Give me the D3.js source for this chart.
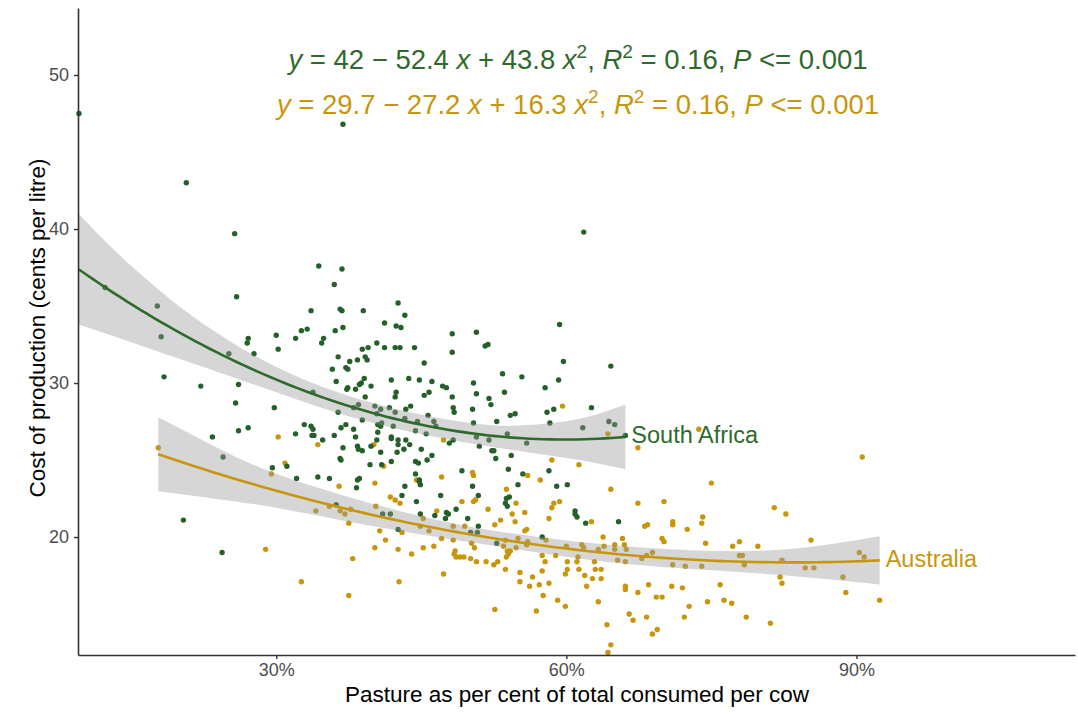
<!DOCTYPE html>
<html>
<head>
<meta charset="utf-8">
<script src="https://cdn.jsdelivr.net/npm/d3@7"></script>
<style>
  html, body { margin: 0; padding: 0; background: #ffffff; }
  svg { display: block; font-family: "Liberation Sans", Arial, sans-serif; }
</style>
</head>
<body>
<svg id="chart" width="1078" height="720"></svg>
<script>
// Pasture share (% of total feed) vs cost of production (cents per litre)
const saPoints = [
  [9.6,47.5],[20.7,43.0],[25.7,39.7],[12.3,36.2],[36.9,46.8],[34.4,37.6],[36.8,37.4],[36.0,36.4],[61.8,39.8],
  [25.9,35.6],[17.7,35.0],[18.1,33.0],[27.1,32.9],[27.0,32.6],[30.0,33.1],[30.2,32.2],[25.1,31.9],[27.7,31.9],
  [18.4,30.4],[22.2,29.8],[26.1,29.9],[25.8,28.7],[29.8,28.4],[23.4,26.5],[26.1,26.9],[27.1,27.1],[24.5,25.2],[29.6,24.5],
  [33.6,34.7],[36.6,34.8],[36.8,34.7],[39.0,34.7],[42.6,35.2],[43.3,34.4],[41.2,33.9],[42.4,33.7],[42.9,33.6],
  [32.6,33.4],[33.2,33.5],[32.0,32.9],[34.9,32.9],[34.7,32.6],[36.1,33.4],[36.9,33.6],[48.2,33.2],[50.7,33.3],
  [48.2,32.0],[40.4,32.6],[39.5,32.3],[38.9,32.2],[41.2,32.3],[42.3,32.3],[42.8,32.3],[44.3,32.3],[36.4,31.7],
  [37.6,31.4],[38.4,31.5],[39.2,31.7],[39.4,31.5],[45.3,31.3],[35.8,30.9],[37.2,31.0],[37.4,30.9],[36.2,30.1],
  [39.1,30.3],[38.8,30.0],[38.6,29.9],[38.2,29.6],[37.3,29.6],[37.4,29.7],[39.8,29.8],[41.9,30.2],[43.7,30.3],
  [44.8,30.2],[46.1,30.1],[47.2,29.8],[47.6,29.7],[50.4,30.0],[50.7,29.3],[45.8,29.4],[45.3,29.2],[42.4,29.4],
  [42.3,29.1],[39.2,29.1],[33.8,29.4],[36.4,28.1],[38.0,28.4],[38.5,28.6],[40.2,28.5],[40.8,28.3],[41.7,28.4],
  [43.4,28.3],[43.9,28.5],[42.3,28.1],[38.9,27.6],[40.4,28.0],[40.9,27.4],[40.8,27.2],[40.5,27.3],[42.1,27.2],
  [43.3,27.7],[44.6,27.5],[45.7,27.9],[46.3,27.5],[46.5,27.2],[44.4,26.9],[45.5,26.7],[48.2,29.1],[48.3,28.4],
  [48.4,28.1],[50.3,28.3],[50.4,27.4],[50.7,26.5],[32.9,27.3],[33.6,27.2],[33.8,27.0],[33.9,26.6],[33.7,26.6],
  [32.0,26.7],[34.8,26.3],[36.0,26.6],[36.7,27.1],[37.2,27.3],[38.0,27.0],[38.2,26.5],[40.5,26.8],[40.4,26.3],
  [41.9,26.5],[41.9,26.4],[42.6,26.3],[42.6,26.0],[43.4,26.3],[43.8,26.0],[43.2,25.7],[42.5,25.5],[45.0,25.7],
  [46.1,25.3],[45.6,25.0],[44.4,24.9],[44.7,24.8],[47.9,26.1],[48.3,26.3],[36.9,25.8],[38.4,25.9],[38.5,25.7],
  [38.9,25.6],[39.8,25.9],[40.8,25.5],[36.6,25.1],[36.7,25.0],[39.7,24.7],[40.9,24.7],[41.9,24.9],[31.1,24.6],
  [59.3,33.8],[51.6,32.4],[51.9,32.5],[59.7,31.4],[64.6,31.1],[53.4,30.6],[55.4,30.4],[59.2,30.2],[57.8,29.7],
  [53.6,29.4],[52.0,29.0],[52.2,28.6],[62.6,28.4],[58.7,28.3],[58.0,28.1],[54.2,27.9],[54.7,28.0],[52.8,27.5],
  [58.3,27.4],[64.4,27.5],[65.0,27.3],[61.7,27.1],[53.9,26.7],[52.0,26.3],[55.9,26.1],[51.0,25.9],[52.3,25.6],
  [52.5,25.6],[54.3,25.3],[52.7,25.1],[66.1,26.6],
  [20.4,21.1],[24.4,19.0],
  [32.1,23.8],[34.3,23.9],[35.5,23.8],[38.4,23.7],[38.6,23.8],[38.3,23.2],[44.4,24.1],[44.8,23.7],[44.8,23.6],
  [44.9,23.4],[43.3,23.3],[43.0,22.7],[44.5,22.3],[47.0,22.7],[49.2,24.3],[50.3,23.3],[50.9,22.7],[48.6,21.8],
  [47.6,21.6],[47.8,21.5],[47.5,21.2],[46.4,21.4],[44.9,21.5],[49.8,21.2],[50.9,20.7],[50.1,20.3],[50.8,20.3],
  [36.2,22.1],[41.0,21.5],[41.8,21.5],[42.6,20.5],
  [54.0,24.4],[55.5,24.1],[58.2,24.3],[55.0,23.4],[59.0,23.3],[60.1,23.4],[54.1,22.6],[53.8,22.5],[53.7,22.2],
  [53.9,22.0],[60.9,21.7],[60.9,21.5],[61.1,21.3],[62.0,20.9],[65.4,21.0],[57.5,20.0],[52.8,19.6]
];

const auPoints = [
  [30.2,26.5],[17.8,25.8],[47.3,26.3],[34.3,26.0],[40.1,26.0],[41.1,24.6],[30.9,24.8],
  [59.6,28.5],[64.3,26.7],[67.4,25.8],[58.5,25.0],[61.3,24.7],[73.7,27.0],[90.6,25.2],
  [29.5,24.1],[28.9,19.2],
  [36.5,23.3],[40.2,23.5],[44.5,23.7],[47.1,23.9],[41.8,22.6],[42.3,22.4],[42.8,22.2],[50.3,24.2],[50.4,24.0],
  [49.2,22.3],[50.4,22.3],[50.6,22.4],[46.6,21.7],[45.2,21.2],[40.3,22.0],[34.1,21.7],[35.5,22.0],[36.6,21.7],
  [37.1,21.5],[37.7,21.8],[37.5,20.9],[43.0,20.3],[44.9,20.7],[45.8,20.4],[47.1,19.9],[48.3,20.7],[49.5,20.7],
  [40.7,20.4],[41.3,19.8],[40.2,19.3],[42.6,19.2],[44.0,18.9],[45.2,19.3],[46.3,19.4],[48.3,19.8],[48.5,19.1],
  [48.4,18.9],[48.6,18.7],[49.0,18.7],[49.4,18.7],[50.1,18.6],[50.5,19.3],[50.2,19.6],[50.7,18.4],[37.9,18.6],
  [47.3,17.6],[32.6,17.1],[42.7,17.1],[37.5,16.2],
  [56.0,24.0],[57.3,23.7],[64.6,23.1],[53.8,23.1],[54.8,22.2],[51.9,21.8],[54.4,21.5],[55.7,21.6],[53.2,21.1],
  [52.6,20.8],[54.7,21.0],[58.2,21.2],[58.5,21.9],[58.7,22.2],[59.3,22.3],[62.6,21.0],[67.4,22.2],[70.1,22.3],
  [71.0,21.0],[71.0,20.8],[68.1,20.7],[68.4,20.8],[55.9,20.5],[55.7,20.4],[57.9,19.8],[53.7,19.8],[55.0,19.9],
  [56.0,19.7],[55.9,19.5],[53.5,19.4],[54.8,19.3],[53.9,19.1],[54.0,18.9],[53.8,18.7],[54.2,19.1],[51.7,18.4],
  [52.9,18.4],[52.5,18.2],[53.7,17.9],[57.5,18.8],[57.8,18.4],[58.9,18.8],[60.0,19.4],[61.6,19.5],[61.8,19.3],
  [61.2,18.7],[61.1,18.4],[60.1,18.4],[60.1,17.9],[59.9,17.6],[61.3,17.9],[63.8,20.0],[63.9,19.4],[63.3,19.2],
  [65.0,19.5],[65.0,19.2],[65.8,19.9],[66.0,19.5],[66.2,19.2],[62.9,18.4],[63.0,17.9],[63.6,17.9],[61.9,17.5],
  [62.7,17.3],[63.6,17.3],[65.3,18.5],[66.1,18.4],[67.8,18.6],[68.3,18.8],[68.9,19.0],[69.9,19.9],[70.1,19.7],
  [71.0,18.2],[57.5,17.8],[55.2,17.7],[55.2,17.1],[56.5,17.4],[56.2,16.8],[57.2,16.9],[58.2,17.0],[62.1,16.8],
  [66.1,16.8],[66.1,16.6],[67.4,16.4],[68.5,16.9],[70.9,16.8],[57.6,16.2],[59.1,15.9],[63.3,15.8],[59.9,15.5],
  [69.9,16.1],[69.3,16.1],[52.6,15.3],[56.9,15.2],[66.5,15.0],[66.9,14.6],[68.3,14.8],[69.4,14.0],[68.9,13.7],
  [64.2,14.3],[64.6,13.0],[64.3,12.5],
  [75.0,23.5],[81.5,21.9],[82.7,21.5],[74.1,21.3],[74.0,20.9],[72.5,20.5],[74.4,19.6],[77.2,19.4],[77.9,19.7],
  [79.8,19.4],[85.3,19.8],[77.9,18.8],[78.2,18.8],[72.3,18.1],[74.0,18.1],[78.4,18.2],[82.3,18.5],[84.7,18.0],
  [85.6,18.0],[90.3,19.0],[90.8,18.7],[82.1,17.4],[82.3,17.0],[88.6,17.4],[75.9,16.9],[72.0,16.7],[88.9,16.4],
  [92.4,15.9],[72.7,15.5],[74.6,15.8],[76.3,15.9],[77.1,15.7],[72.2,14.8],[78.6,14.8],[81.1,14.4]
];

// Quadratic fits (x as a proportion): intercept, linear, squared
const saCoef = [42, -52.4, 43.8];
const auCoef = [29.7, -27.2, 16.3];

// 95% confidence half-widths of each fit, cents per litre
const saBandX    = [9.5, 13, 17, 22, 30, 40, 50, 56, 61.5, 66.1];
const saBandHalf = [3.6, 2.85, 2.15, 1.45, 0.82, 0.65, 0.66, 0.88, 1.36, 2.1];
const auBandX    = [17.8, 24, 30.4, 40.8, 50.8, 61.5, 71.5, 82.1, 92.4];
const auBandHalf = [2.4, 1.65, 1.08, 0.7, 0.5, 0.54, 0.6, 0.82, 1.57];

const xTicks = [30, 60, 90];
const yTicks = [20, 30, 40, 50];

const saColor = "#2f6a2c";
const auColor = "#c8960c";

const svg = d3.select("#chart");
const x = d3.scaleLinear().domain([9.5, 112.6]).range([78, 1075]);
const y = d3.scaleLinear().domain([12.34, 54.35]).range([655, 8]);

const fit = (c, p) => c[0] + c[1] * (p / 100) + c[2] * (p / 100) * (p / 100);

// Scatter
svg.append("g").selectAll("circle").data(auPoints).join("circle")
  .attr("cx", d => x(d[0])).attr("cy", d => y(d[1])).attr("r", 2.7).attr("fill", auColor);
svg.append("g").selectAll("circle").data(saPoints).join("circle")
  .attr("cx", d => x(d[0])).attr("cy", d => y(d[1])).attr("r", 2.7).attr("fill", "#25602a");

// Fit ribbons and curves
function drawFit(coef, bandX, bandHalf, color, pts, label) {
  const band = bandX.map((p, i) => ({ p, lo: fit(coef, p) - bandHalf[i], hi: fit(coef, p) + bandHalf[i] }));
  svg.append("path").datum(band)
    .attr("d", d3.area().curve(d3.curveNatural).x(d => x(d.p)).y0(d => y(d.lo)).y1(d => y(d.hi)))
    .attr("fill", "#999999").attr("fill-opacity", 0.4);
  const [x0, x1] = d3.extent(pts, d => d[0]);
  const xs = d3.range(0, 81).map(i => x0 + (x1 - x0) * i / 80);
  svg.append("path").datum(xs)
    .attr("d", d3.line().x(p => x(p)).y(p => y(fit(coef, p))))
    .attr("fill", "none").attr("stroke", color).attr("stroke-width", 2.6);
  svg.append("text").attr("x", x(x1) + 6).attr("y", y(fit(coef, x1)))
    .attr("dominant-baseline", "middle").attr("font-size", 23.5).attr("fill", color).text(label);
}
drawFit(saCoef, saBandX, saBandHalf, saColor, saPoints, "South Africa");
drawFit(auCoef, auBandX, auBandHalf, auColor, auPoints, "Australia");

// Axes
const axisColor = "#333333";
const xAxis = svg.append("g").attr("transform", "translate(0,655)")
  .call(d3.axisBottom(x).tickValues(xTicks).tickFormat(d => d + "%").tickSize(4).tickSizeOuter(0).tickPadding(4));
const yAxis = svg.append("g").attr("transform", "translate(78,0)")
  .call(d3.axisLeft(y).tickValues(yTicks).tickSize(4).tickSizeOuter(0).tickPadding(5));
[xAxis, yAxis].forEach(g => {
  g.select(".domain").attr("stroke", axisColor).attr("stroke-width", 1.6);
  g.selectAll(".tick line").attr("stroke", axisColor).attr("stroke-width", 1.4);
  g.selectAll(".tick text").attr("fill", "#4d4d4d").attr("font-size", 18)
    .attr("font-family", "'Liberation Sans', Arial, sans-serif");
});

svg.append("text").attr("x", 577).attr("y", 702).attr("text-anchor", "middle")
  .attr("font-size", 22.5).attr("fill", "#000").text("Pasture as per cent of total consumed per cow");
svg.append("text").attr("transform", "translate(45,328) rotate(-90)").attr("text-anchor", "middle")
  .attr("font-size", 22.5).attr("fill", "#000").text("Cost of production (cents per litre)");

// Regression equations
function equation(yPos, color, coef, r2, p) {
  const t = svg.append("text").attr("x", 578).attr("y", yPos).attr("text-anchor", "middle")
    .attr("font-size", 27.5).attr("fill", color);
  const minus = "\u2212";
  const parts = [
    ["y", "it"], [" = " + coef[0] + " " + minus + " " + Math.abs(coef[1]) + " "], ["x", "it"],
    [" + " + coef[2] + " "], ["x", "it"], ["2", "sup"], [", "], ["R", "it"], ["2", "sup"],
    [" = " + r2.toFixed(2) + ", "], ["P", "it"], [" <= " + p]
  ];
  let raised = false;
  parts.forEach(([s, kind]) => {
    const ts = t.append("tspan").text(s);
    if (kind === "it") ts.attr("font-style", "italic");
    if (kind === "sup") { ts.attr("font-size", 19).attr("dy", -11); raised = true; }
    else if (raised) { ts.attr("dy", 11); raised = false; }
  });
}
equation(69, saColor, saCoef, 0.16, "0.001");
equation(114, auColor, auCoef, 0.16, "0.001");
</script>
</body>
</html>
